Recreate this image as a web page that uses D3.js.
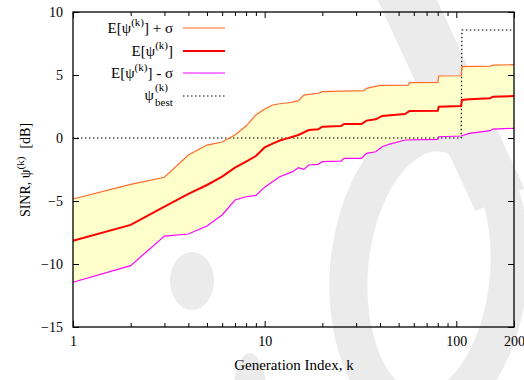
<!DOCTYPE html>
<html>
<head>
<meta charset="utf-8">
<script src="https://cdn.jsdelivr.net/npm/d3@7"></script>
<style>
  body { margin: 0; background: #fff; }
  svg { display: block; }
  svg text { font-family: "Liberation Serif", "Times New Roman", "DejaVu Serif", serif; }
</style>
</head>
<body>
<svg id="chart" width="524" height="380"></svg>
<script>
// generation index k and the three SINR curves (dB)
const upperK = [1, 2, 3, 4, 5, 6, 7, 8, 9, 10, 11, 12, 13, 14, 15, 16, 19, 20, 33, 34, 40, 56, 57, 80, 81, 106, 107, 152, 155, 200];
const upperV = [-4.84, -3.68, -3.12, -1.35, -0.56, -0.32, 0.24, 0.95, 1.83, 2.3, 2.62, 2.72, 2.78, 2.85, 2.96, 3.41, 3.55, 3.68, 3.76, 3.94, 4.18, 4.2, 4.39, 4.42, 4.92, 4.94, 5.66, 5.71, 5.79, 5.82];

const meanK = [1, 2, 3, 4, 5, 6, 7, 8, 9, 10, 11, 12, 13, 14, 15, 17, 19, 20, 25, 26, 32, 34, 38, 41, 54, 57, 80, 81, 106, 107, 117, 150, 155, 200];
const meanV = [-8.15, -6.9, -5.45, -4.44, -3.73, -3.07, -2.35, -1.88, -1.43, -0.75, -0.45, -0.2, -0.05, 0.1, 0.24, 0.63, 0.69, 0.9, 0.95, 1.11, 1.11, 1.38, 1.48, 1.75, 1.9, 2.14, 2.17, 2.49, 2.54, 3.02, 3.07, 3.15, 3.28, 3.33];

const lowerK = [1, 2, 3, 4, 5, 6, 7, 8, 9, 10, 11, 12, 14, 15, 16, 17, 19, 20, 25, 26, 32, 34, 38, 41, 45, 54, 80, 81, 106, 117, 150, 155, 200];
const lowerV = [-11.45, -10.13, -7.78, -7.62, -6.98, -6.11, -4.92, -4.66, -4.55, -3.9, -3.47, -3.07, -2.67, -2.36, -2.49, -2.14, -2.09, -1.88, -1.83, -1.61, -1.61, -1.22, -1.09, -0.69, -0.48, -0.16, -0.11, 0.1, 0.16, 0.37, 0.58, 0.71, 0.77];

const bestK = [1, 106, 107, 200];
const bestV = [0, 0, 8.57, 8.57];

const xMajor = [1, 10, 100, 200];
const xMinor = [2, 3, 4, 5, 6, 7, 8, 9, 20, 30, 40, 50, 60, 70, 80, 90];
const yTicks = [-15, -10, -5, 0, 5, 10];

const serif = '"Liberation Serif", "Times New Roman", serif';

const toPts = (ks, vs) => ks.map((k, i) => ({ k: k, v: vs[i] }));
const upper = toPts(upperK, upperV);
const mean = toPts(meanK, meanV);
const lower = toPts(lowerK, lowerV);
const best = toPts(bestK, bestV);

// band needs upper and lower on a common k grid
const allK = Array.from(new Set(upperK.concat(lowerK))).sort((a, b) => a - b);
const interp = (ks, vs, k) => {
  const i = d3.bisectLeft(ks, k);
  if (ks[i] === k) return vs[i];
  const t = (Math.log(k) - Math.log(ks[i - 1])) / (Math.log(ks[i]) - Math.log(ks[i - 1]));
  return vs[i - 1] + t * (vs[i] - vs[i - 1]);
};
const band = allK.map(k => ({ k: k, hi: interp(upperK, upperV, k), lo: interp(lowerK, lowerV, k) }));

const mLeft = 73, mRight = 514, mTop = 12, mBottom = 327;
const svg = d3.select('#chart');

// faint watermark behind the plot
const wm = svg.append('g').attr('fill', 'none').attr('stroke', '#ebebeb');
wm.append('ellipse')
  .attr('cx', 429).attr('cy', 272).attr('rx', 80).attr('ry', 140)
  .attr('stroke-width', 38)
  .attr('transform', 'rotate(5 429 272)');
wm.append('line')
  .attr('x1', 398).attr('y1', -20).attr('x2', 500).attr('y2', 200)
  .attr('stroke-width', 54);
wm.append('ellipse')
  .attr('cx', 192).attr('cy', 281).attr('rx', 22).attr('ry', 29)
  .attr('fill', '#ebebeb').attr('stroke', 'none');
wm.append('ellipse')
  .attr('cx', 250).attr('cy', 405).attr('rx', 18).attr('ry', 52)
  .attr('fill', '#ebebeb').attr('stroke', 'none');

const x = d3.scaleLog().domain([1, 200]).range([mLeft, mRight]);
const y = d3.scaleLinear().domain([-15, 10]).range([mBottom, mTop]);

// yellow band between mean +/- sigma
svg.append('path')
  .datum(band)
  .attr('fill', '#ffffcc')
  .attr('d', d3.area().x(d => x(d.k)).y0(d => y(d.lo)).y1(d => y(d.hi)));

const line = d3.line().x(d => x(d.k)).y(d => y(d.v));

svg.append('path').datum(best)
  .attr('fill', 'none').attr('stroke', '#000').attr('stroke-width', 1.2)
  .attr('stroke-dasharray', '1.5,2.5').attr('d', line);
svg.append('path').datum(lower)
  .attr('fill', 'none').attr('stroke', '#ff00ff').attr('stroke-width', 1.2).attr('d', line);
svg.append('path').datum(upper)
  .attr('fill', 'none').attr('stroke', '#ff6a2a').attr('stroke-width', 1.2).attr('d', line);
svg.append('path').datum(mean)
  .attr('fill', 'none').attr('stroke', '#ff0000').attr('stroke-width', 2).attr('d', line);

// axes, ticks pointing inward on all four sides
const styleAxis = g => {
  g.attr('font-family', serif).attr('font-size', 14);
  g.select('.domain').remove();
  g.selectAll('line').attr('stroke', '#000');
  g.selectAll('text').attr('fill', '#000');
};

svg.append('g').attr('transform', `translate(0,${mBottom})`)
  .call(d3.axisBottom(x).tickValues(xMajor).tickSize(-6).tickPadding(9).tickFormat(d3.format('d')))
  .call(styleAxis);
svg.append('g').attr('transform', `translate(0,${mBottom})`)
  .call(d3.axisBottom(x).tickValues(xMinor).tickSize(-4).tickFormat(''))
  .call(styleAxis);
svg.append('g').attr('transform', `translate(0,${mTop})`)
  .call(d3.axisTop(x).tickValues(xMajor).tickSize(-6).tickFormat(''))
  .call(styleAxis);
svg.append('g').attr('transform', `translate(0,${mTop})`)
  .call(d3.axisTop(x).tickValues(xMinor).tickSize(-4).tickFormat(''))
  .call(styleAxis);
svg.append('g').attr('transform', `translate(${mLeft},0)`)
  .call(d3.axisLeft(y).tickValues(yTicks).tickSize(-6).tickPadding(10))
  .call(styleAxis);
svg.append('g').attr('transform', `translate(${mRight},0)`)
  .call(d3.axisRight(y).tickValues(yTicks).tickSize(-6).tickFormat(''))
  .call(styleAxis);

svg.append('rect')
  .attr('x', mLeft).attr('y', mTop).attr('width', mRight - mLeft).attr('height', mBottom - mTop)
  .attr('fill', 'none').attr('stroke', '#000').attr('stroke-width', 1.3);

// axis titles
svg.append('text')
  .attr('x', 294).attr('y', 370)
  .attr('text-anchor', 'middle').attr('font-size', 15)
  .text('Generation Index, k');

const yl = svg.append('text')
  .attr('transform', 'translate(30,170) rotate(-90)')
  .attr('text-anchor', 'middle').attr('font-size', 14);
yl.append('tspan').text('SINR, ψ');
yl.append('tspan').attr('dy', -6).attr('font-size', 11).text('(k)');
yl.append('tspan').attr('dy', 6).attr('dx', 8).text('[dB]');

// legend
const legend = [
  { label: '+ σ', color: '#ff6a2a', width: 1.2, dash: null },
  { label: '', color: '#ff0000', width: 2, dash: null },
  { label: '- σ', color: '#ff00ff', width: 1.2, dash: null },
  { label: 'best', color: '#000', width: 1.2, dash: '1.5,2.5' }
];
const rowY = [28, 51, 73, 96];
legend.forEach((d, i) => {
  const yy = rowY[i];
  svg.append('line')
    .attr('x1', 183).attr('x2', 225).attr('y1', yy).attr('y2', yy)
    .attr('stroke', d.color).attr('stroke-width', d.width)
    .attr('stroke-dasharray', d.dash);
  if (i < 3) {
    const t = svg.append('text')
      .attr('x', 173).attr('y', yy + 5)
      .attr('text-anchor', 'end').attr('font-size', 15);
    t.append('tspan').text('E[ψ');
    t.append('tspan').attr('dy', -7).attr('font-size', 11).text('(k)');
    t.append('tspan').attr('dy', 7).attr('xml:space', 'preserve')
      .text(d.label ? '] ' + d.label : ']');
  } else {
    // psi with stacked superscript (k) and subscript "best"
    svg.append('text').attr('x', 154).attr('y', yy + 4)
      .attr('text-anchor', 'end').attr('font-size', 15).text('ψ');
    svg.append('text').attr('x', 155).attr('y', yy - 5)
      .attr('font-size', 11).text('(k)');
    svg.append('text').attr('x', 155).attr('y', yy + 10)
      .attr('font-size', 11).text(d.label);
  }
});
</script>
</body>
</html>
